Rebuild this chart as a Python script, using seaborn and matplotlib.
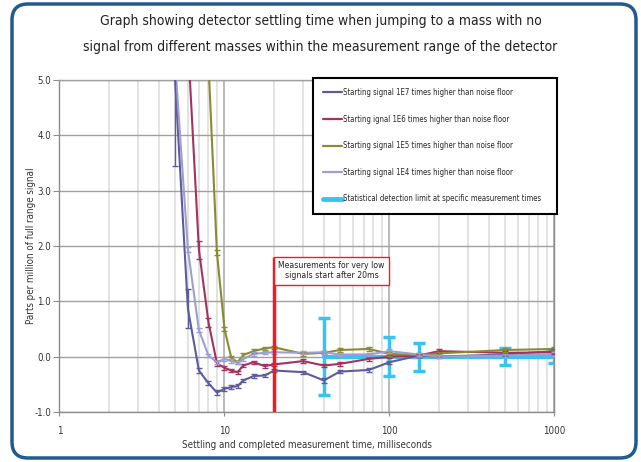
import numpy as np
import pandas as pd
import matplotlib
matplotlib.use("Agg")
import matplotlib.pyplot as plt
from matplotlib.lines import Line2D
from matplotlib.patches import FancyBboxPatch
from matplotlib.transforms import IdentityTransform
from matplotlib.ticker import FixedLocator, LogLocator, NullFormatter
import seaborn as sns

# settling / measurement times (ms)
times = [5, 6, 7, 8, 9, 10, 11, 12, 13, 15, 17.5, 20, 30, 40, 50, 75, 100, 150, 200, 500, 1000]

sig_1e7 = [5.1, 0.87, -0.25, -0.48, -0.65, -0.58, -0.55, -0.53, -0.43, -0.35, -0.34, -0.25,
           -0.28, -0.43, -0.27, -0.24, -0.10, 0.02, 0.00, 0.04, 0.10]
err_1e7 = [1.65, 0.35, 0.04, 0.04, 0.04, 0.04, 0.03, 0.03, 0.03, 0.03, 0.03, 0.03,
           0.03, 0.04, 0.03, 0.03, 0.03, 0.03, 0.03, 0.03, 0.03]
sig_1e6 = [np.nan, 5.7, 1.93, 0.62, -0.12, -0.20, -0.25, -0.28, -0.16, -0.10, -0.17, -0.14,
           -0.08, -0.16, -0.13, -0.04, 0.00, 0.02, 0.10, 0.07, 0.08]
err_1e6 = [np.nan, 0.2, 0.16, 0.08, 0.04, 0.04, 0.03, 0.03, 0.03, 0.03, 0.03, 0.03,
           0.03, 0.03, 0.03, 0.03, 0.03, 0.03, 0.03, 0.03, 0.03]
sig_1e5 = [np.nan, np.nan, np.nan, 5.3, 1.88, 0.50, -0.02, -0.10, 0.03, 0.10, 0.15, 0.17,
           0.05, 0.07, 0.12, 0.14, 0.05, 0.03, 0.06, 0.12, 0.14]
err_1e5 = [np.nan, np.nan, np.nan, 0.2, 0.05, 0.04, 0.03, 0.03, 0.03, 0.03, 0.03, 0.03,
           0.03, 0.03, 0.03, 0.03, 0.03, 0.03, 0.03, 0.03, 0.03]
sig_1e4 = [5.4, 1.94, 0.48, 0.02, -0.10, -0.04, -0.08, -0.11, -0.04, 0.05, 0.07, 0.08,
           0.07, 0.08, 0.04, 0.04, 0.10, 0.04, 0.00, 0.02, 0.05]
err_1e4 = [0.2, 0.05, 0.04, 0.03, 0.03, 0.03, 0.03, 0.03, 0.03, 0.03, 0.03, 0.03,
           0.03, 0.03, 0.03, 0.03, 0.03, 0.03, 0.03, 0.03, 0.03]

det_times = [40, 100, 150, 500, 1000]
det_center = [0.0, 0.0, 0.0, 0.0, 0.0]
det_limit = [0.70, 0.35, 0.25, 0.15, 0.11]

labels = ["Starting signal 1E7 times higher than noise floor",
          "Starting ignal 1E6 times higher than noise floor",
          "Starting signal 1E5 times higher than noise floor",
          "Starting signal 1E4 times higher than noise floor"]
det_label = "Statistical detection limit at specific measurement times"
colors = ["#5c5c9c", "#a3325f", "#8a8a30", "#9e9ed2"]
det_color = "#38c4ee"

start_ms = 20
note_top = 1.81

sns.set_style("white")
plt.rcParams['font.family'] = ['DejaVu Sans']
plt.rcParams['font.stretch'] = 'condensed'

rows = []
for lab, vals, errs in zip(labels, [sig_1e7, sig_1e6, sig_1e5, sig_1e4],
                           [err_1e7, err_1e6, err_1e5, err_1e4]):
    for t, v, e in zip(times, vals, errs):
        if not np.isnan(v):
            rows.append({"time": t, "ppm": v, "err": e, "series": lab})
df = pd.DataFrame(rows)

fig = plt.figure(figsize=(6.41, 4.62), dpi=100)
ax = fig.add_axes([0.0928, 0.1082, 0.7722, 0.7186])

# detection limit underneath
ax.errorbar(det_times, det_center, yerr=det_limit, color=det_color, lw=3,
            elinewidth=2.5, capsize=4, capthick=2.5, zorder=2)

sns.lineplot(data=df, x="time", y="ppm", hue="series", hue_order=labels,
             palette=dict(zip(labels, colors)), sort=False, lw=1.5,
             legend=False, ax=ax, zorder=3, estimator=None)
for lab, col in zip(labels, colors):
    d = df[df["series"] == lab]
    ax.errorbar(d["time"], d["ppm"], yerr=d["err"], fmt="none", ecolor=col,
                elinewidth=1, capsize=2.5, capthick=1, zorder=3)

ax.set_xscale("log")
ax.set_xlim(1, 1000)
ax.set_ylim(-1, 5)
ax.xaxis.set_major_locator(FixedLocator([1, 10, 100, 1000]))
ax.set_xticklabels(["1", "10", "100", "1000"])
ax.xaxis.set_minor_locator(LogLocator(base=10, subs=np.arange(2, 10)))
ax.xaxis.set_minor_formatter(NullFormatter())
ax.set_yticks(np.arange(-1, 5.1, 1))
ax.set_yticklabels([f"{v:.1f}" for v in np.arange(-1, 5.1, 1)])

ax.grid(True, which="major", axis="y", color="#a0a0a0", lw=1)
ax.grid(True, which="major", axis="x", color="#b4b4b4", lw=1.3)
ax.grid(True, which="minor", axis="x", color="#dedede", lw=1.2)
ax.set_axisbelow(True)
for s in ax.spines.values():
    s.set_color("#8c8c8c")
    s.set_linewidth(1)
ax.spines["top"].set_color("#a0a0a0")
ax.tick_params(axis="y", direction="out", length=4, color="#8c8c8c",
               labelsize=7, labelcolor="#333333", pad=2, left=True)
ax.tick_params(axis="x", which="major", direction="out", length=3, color="#8c8c8c",
               labelsize=7, labelcolor="#333333", pad=7, bottom=True)
ax.tick_params(axis="x", which="minor", length=0)

ax.set_xlabel("Settling and completed measurement time, milliseconds",
              fontsize=7, color="#333333", labelpad=3)
ax.set_ylabel("Parts per million of full range signal", fontsize=7,
              color="#333333", labelpad=-1)

# 20 ms marker
ax.vlines(start_ms, -1, note_top, color="#ee1c25", lw=2.5, zorder=4)
ax.annotate("Measurements for very low\nsignals start after 20ms",
            xy=(start_ms, note_top), xytext=(3.1, -3.1), textcoords="offset points",
            ha="left", va="top", fontsize=6.2, color="#222222", zorder=5,
            multialignment="center",
            bbox=dict(boxstyle="square,pad=0.5", fc="white", ec="#ee1c25", lw=1))

handles = [Line2D([], [], color=c, lw=1.6) for c in colors]
handles.append(Line2D([], [], color=det_color, lw=3.5))
leg = ax.legend(handles, labels + [det_label], loc="upper left",
                bbox_to_anchor=(0.5121, 0.5, 0.493, 0.506), mode="expand",
                borderaxespad=0, fontsize=5.6, labelspacing=2.26,
                handlelength=2.4, handletextpad=0.1, borderpad=1.3,
                frameon=True, fancybox=False, framealpha=1)
leg.get_frame().set_edgecolor("black")
leg.get_frame().set_linewidth(1.5)
leg.set_zorder(6)

fig.text(0.5, 0.955, "Graph showing detector settling time when jumping to a mass with no",
         ha="center", va="center", fontsize=10, color="#222222")
fig.text(0.5, 0.898, "signal from different masses within the measurement range of the detector",
         ha="center", va="center", fontsize=10, color="#222222")

border = FancyBboxPatch((12, 4), 624, 454, boxstyle="round,pad=0,rounding_size=16",
                        transform=IdentityTransform(), fill=False, ec="#1f5b8e", lw=2.5)
fig.add_artist(border)

fig.savefig("out.png", dpi=100)
